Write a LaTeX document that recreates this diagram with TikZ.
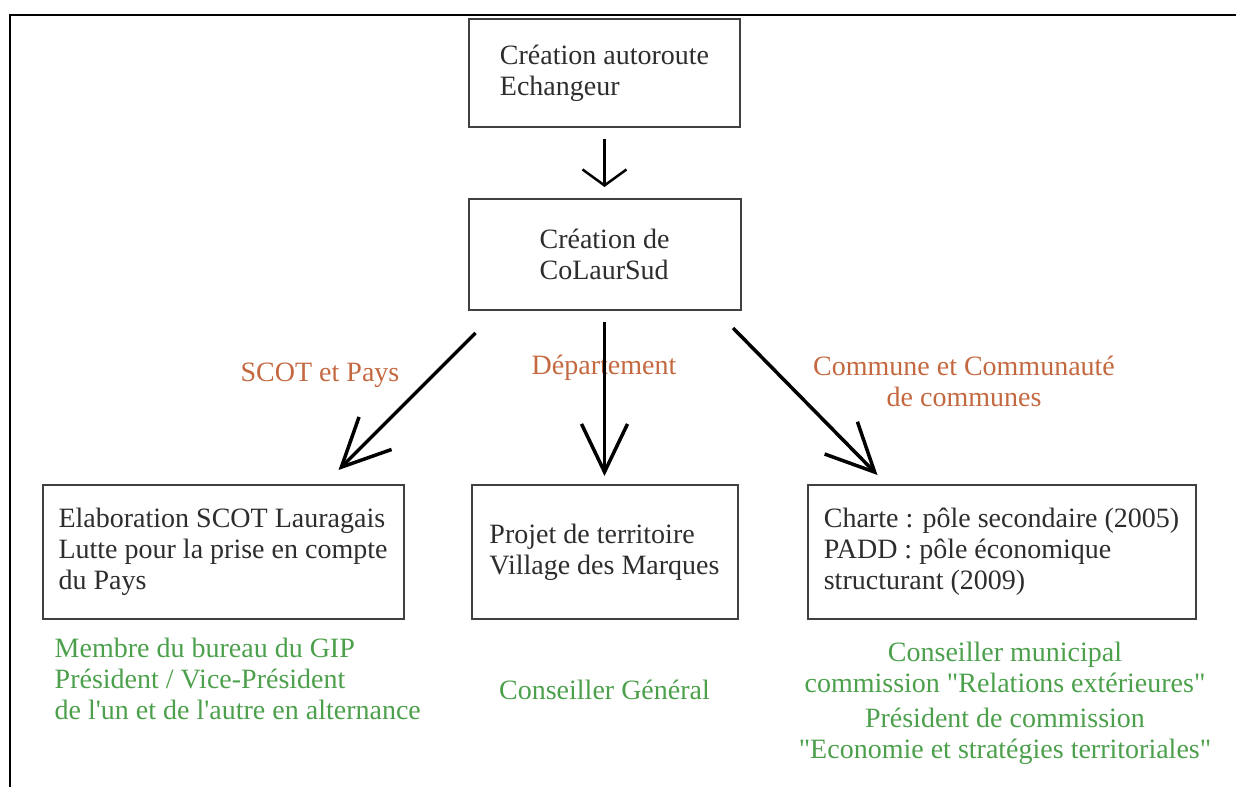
\documentclass[tikz,border=0pt]{standalone}
\usepackage{fontspec}
\setmainfont{Liberation Serif}[Ligatures=TeXOff]
\usepackage{xcolor}
\usetikzlibrary{positioning,arrows.meta}

\definecolor{boxgray}{RGB}{64,64,64}
\definecolor{textgray}{RGB}{45,45,45}
\definecolor{flowbrown}{RGB}{196,104,64}
\definecolor{rolegreen}{RGB}{76,160,76}

\begin{document}
\begin{tikzpicture}[
    x=1pt, y=1pt,
    font=\fontsize{28}{31}\selectfont,
    box/.style={
        rectangle, draw=boxgray, line width=2pt, align=left,
        text=textgray, inner sep=0pt, minimum height=134pt
    },
    flowlabel/.style={text=flowbrown, align=center, inner sep=0pt},
    role/.style={text=rolegreen, inner sep=0pt},
    arrow/.style={-{Straight Barb[length=48pt,width=46pt]}, line width=3.5pt},
    smallarrow/.style={-{Straight Barb[length=16pt,width=44pt]}, line width=2.5pt},
    frame/.style={line width=2.2pt}
]
\useasboundingbox (0,0) rectangle (1236,-787);
\draw[frame] (10,-787) -- (10,-15) -- (1236,-15);

% boxes
\node[box, minimum width=271pt, minimum height=108pt] (autoroute) at (604.5,-73) {Création autoroute\\Echangeur};
\node[box, minimum width=272pt, minimum height=111pt, below=70pt of autoroute] (colaur) {Création de\\CoLaurSud};
\node[box, minimum width=266pt, below=173pt of colaur] (projet) {Projet de territoire\\Village des Marques};
\node[box, minimum width=361pt, left=66pt of projet] (scot) {Elaboration SCOT Lauragais\\Lutte pour la prise en compte\\du Pays};
\node[box, minimum width=388pt, right=68pt of projet] (charte) {Charte : pôle secondaire (2005)\\PADD : pôle économique\\structurant (2009)};

% labels on the links
\node[flowlabel] (scotlbl) at (320,-375) {SCOT et Pays};
\node[flowlabel] (deplbl) at (604,-368) {Département};
\node[flowlabel] (comlbl) at (964,-381) {Commune et Communauté\\de communes};

% roles
\node[role, align=left, below right=18pt and 13pt of scot.south west] (gip) {Membre du bureau du GIP\\Président / Vice-Président\\de l'un et de l'autre en alternance};
\node[role, anchor=base] (cg) at ([yshift=-79pt]projet.south) {Conseiller Général};
\node[role, align=center, below=22pt of charte.south, xshift=3.5pt] (conseil) {Conseiller municipal\\commission "Relations extérieures"\\[4pt]Président de commission\\"Economie et stratégies territoriales"};

\draw[smallarrow] ([yshift=-11pt]autoroute.south) -- ([yshift=11pt]colaur.north);
\draw[arrow] ([shift={(8pt,-22pt)}]colaur.south west) -- ([shift={(-66pt,14pt)}]scot.north east);
\draw[arrow] ([yshift=-11pt]colaur.south) -- ([yshift=8pt]projet.north);
\draw[arrow] ([shift={(-8.5pt,-17pt)}]colaur.south east) -- ([shift={(71pt,9pt)}]charte.north west);
\end{tikzpicture}
\end{document}
